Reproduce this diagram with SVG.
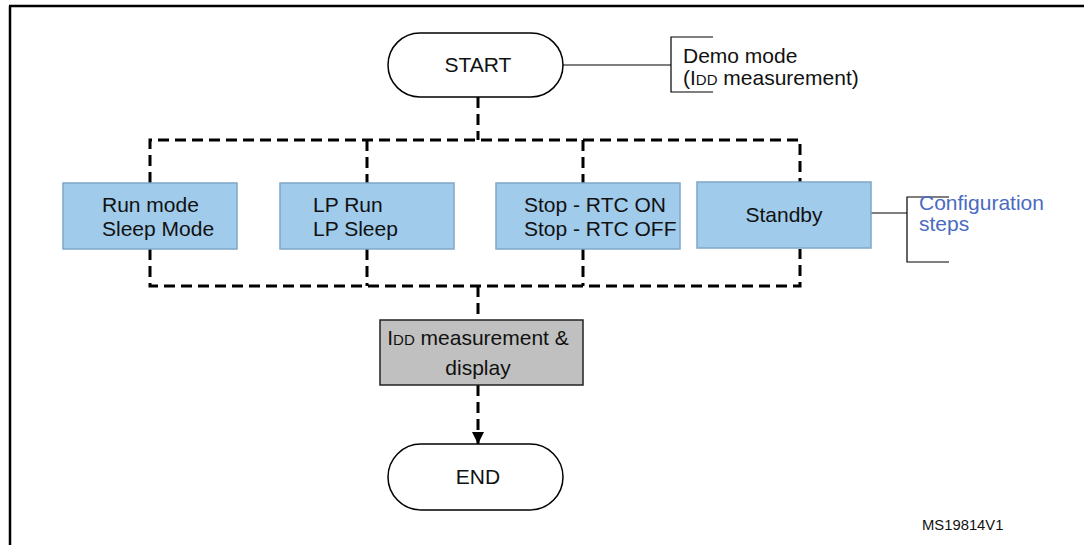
<svg xmlns="http://www.w3.org/2000/svg" width="1084" height="545" viewBox="0 0 1084 545">
<defs>
<style>
text{font-family:"Liberation Sans",Arial,sans-serif;font-size:21px;fill:#111}
.blue{fill:#a0cbeb;stroke:#7fa7c8;stroke-width:1.5}
.dash{fill:none;stroke:#000;stroke-width:3;stroke-dasharray:11 6}
.thin{fill:none;stroke:#000;stroke-width:1.2}
.pill{fill:#fff;stroke:#000;stroke-width:1.5}
.sm{font-size:15px}
</style>
<marker id="ah" markerWidth="12" markerHeight="12" refX="12" refY="6" orient="auto" markerUnits="userSpaceOnUse">
<path d="M0,0 L12,6 L0,12 Z" fill="#000"/>
</marker>
</defs>
<rect width="1084" height="545" fill="#fff"/>
<g id="frame">
<path d="M9,6 H1084 M10,6 V545" fill="none" stroke="#000" stroke-width="2.5"/>
</g>
<g id="connectors">
<path class="dash" d="M478,97 V140"/>
<path class="dash" d="M150,183 V140 H800 V183"/>
<path class="dash" d="M367,140 V183"/>
<path class="dash" d="M583,140 V183"/>
<path class="dash" d="M150,249 V286 H800 V249"/>
<path class="dash" d="M367,249 V286"/>
<path class="dash" d="M583,249 V286"/>
<path class="dash" d="M478,286 V320"/>
<path class="dash" d="M478,385 V444" marker-end="url(#ah)"/>
<path class="thin" d="M563,65 H671 M713,37 H671 V92 H713"/>
<path class="thin" d="M871,213 H907 M949,197 H907 V262 H949"/>
</g>
<g id="start">
<rect class="pill" x="388" y="33" width="175" height="64" rx="32"/>
<text x="478" y="72" text-anchor="middle">START</text>
</g>
<g id="demo-note">
<text x="683" y="63">Demo mode</text>
<text x="683" y="85">(I<tspan class="sm">DD</tspan> measurement)</text>
</g>
<g id="run">
<rect class="blue" x="63" y="183" width="174" height="66"/>
<text x="102" y="212">Run mode</text>
<text x="102" y="236">Sleep Mode</text>
</g>
<g id="lp">
<rect class="blue" x="280" y="183" width="174" height="66"/>
<text x="313" y="212">LP Run</text>
<text x="313" y="236">LP Sleep</text>
</g>
<g id="stop">
<rect class="blue" x="496" y="183" width="184" height="66"/>
<text x="524" y="212">Stop - RTC ON</text>
<text x="524" y="236">Stop - RTC OFF</text>
</g>
<g id="standby">
<rect class="blue" x="697" y="182" width="174" height="66"/>
<text x="784" y="222" text-anchor="middle">Standby</text>
</g>
<g id="config-note">
<text x="919" y="210" style="fill:#4a6bbf">Configuration</text>
<text x="919" y="231" style="fill:#4a6bbf">steps</text>
</g>
<g id="idd">
<rect x="380" y="320" width="203" height="65" fill="#c0c0c0" stroke="#222" stroke-width="1.5"/>
<text x="478" y="345" text-anchor="middle">I<tspan class="sm">DD</tspan> measurement &amp;</text>
<text x="478" y="375" text-anchor="middle">display</text>
</g>
<g id="end">
<rect class="pill" x="388" y="444" width="175" height="66" rx="33"/>
<text x="478" y="484" text-anchor="middle">END</text>
</g>
<text x="922" y="530" style="font-size:14.8px">MS19814V1</text>
</svg>
